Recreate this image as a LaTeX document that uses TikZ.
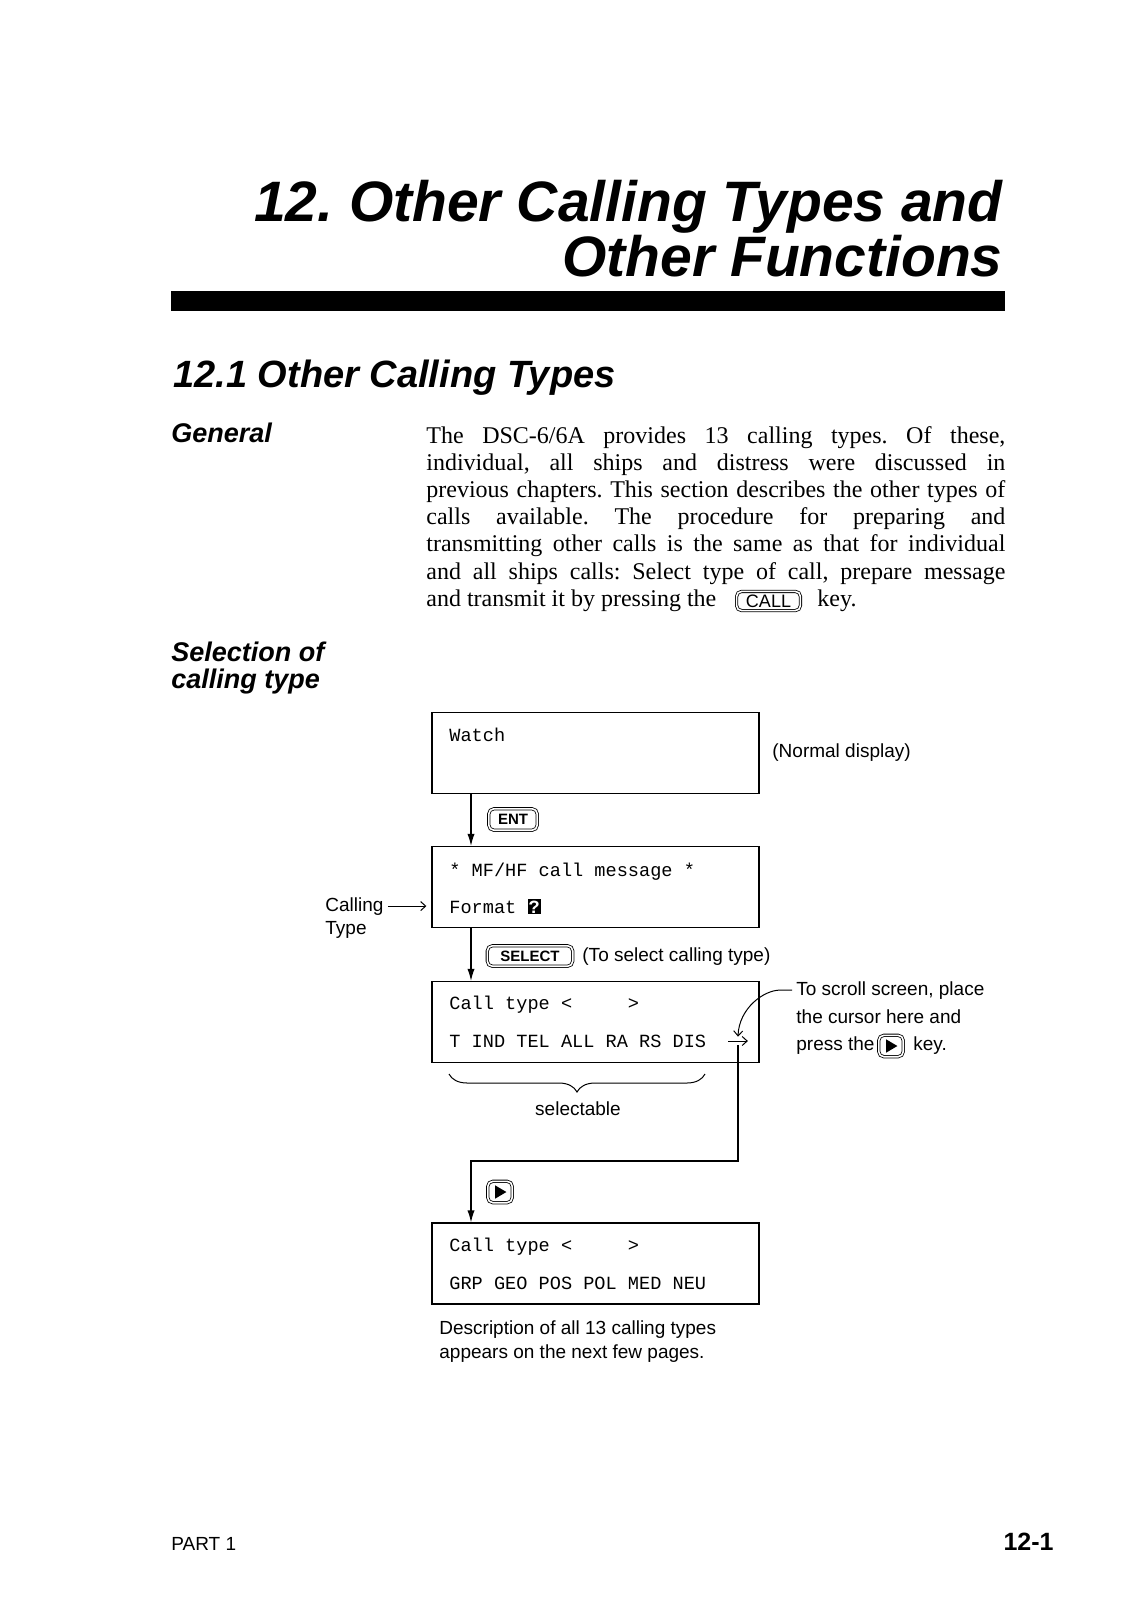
\documentclass[tikz,border=0pt]{standalone}
\usepackage{fontspec}
\setmainfont{Liberation Serif}
\setsansfont{Liberation Sans}
\setmonofont{Liberation Mono}
\frenchspacing
\usetikzlibrary{
  arrows.meta,%
  decorations.pathreplacing,%
  positioning
}
\tikzset{>=latex}
\tikzset{
  screen/.style={draw, line width=0.6pt, minimum width=163.5pt,
    minimum height=40.5pt, inner sep=0pt},
  lcd/.style={anchor=base west, inner sep=0pt,
    font=\ttfamily\fontsize{9.3}{11}\selectfont},
  keycap/.style={draw, double, double distance=0.8pt, line width=0.4pt,
    rounded corners=2.5pt, inner sep=0pt,
    font=\sffamily\bfseries\fontsize{7.5}{8}\selectfont},
  playkey/.style={keycap, minimum width=12.2pt, minimum height=10.7pt,
    path picture={\fill[sharp corners] ([shift={(-2.4pt,3.3pt)}]path picture bounding box.center)
      -- ++(5.6pt,-3.3pt) -- ++(-5.6pt,-3.3pt) -- cycle;}},
  note/.style={anchor=base west, inner sep=0pt,
    font=\sffamily\fontsize{9.5}{11}\selectfont},
  body/.style={anchor=base west, inner sep=0pt,
    font=\fontsize{12}{13.6}\selectfont},
  flow/.style={-{Latex[length=6pt,width=3.6pt]}, line width=0.6pt},
  barb/.style={-{Straight Barb[length=2.5pt,width=4.5pt]}, line width=0.5pt}
}
\newcommand{\invq}{{\setlength\fboxsep{0.6pt}\colorbox{black}{\textcolor{white}{\bfseries ?}}}}

\begin{document}
\begin{tikzpicture}[x=0.5pt, y=-0.5pt]
  \fill[white] (0,0) rectangle (1131,1600);
  \useasboundingbox (0,0) rectangle (1131,1600);
  % chapter heading
  \node[anchor=base east, inner sep=0pt, font=\sffamily\bfseries\itshape\fontsize{28.5}{30}\selectfont]
    (title1) at (1003,221) {12. Other Calling Types and};
  \node[anchor=base east, inner sep=0pt, font=\sffamily\bfseries\itshape\fontsize{28.5}{30}\selectfont]
    (title2) at (1003,276) {Other Functions};
  \fill (171,291) rectangle (1005,311); %
  \node[anchor=base west, inner sep=0pt, font=\sffamily\bfseries\itshape\fontsize{19}{21}\selectfont]
    (section) at (173,387) {12.1 Other Calling Types};
  \node[anchor=base west, inner sep=0pt, font=\sffamily\bfseries\itshape\fontsize{13.5}{15}\selectfont]
    (general) at (171,442) {General};
  \node[anchor=base west, inner sep=0pt, font=\sffamily\bfseries\itshape\fontsize{13.5}{15}\selectfont]
    (selection1) at (171,661) {Selection of};
  \node[anchor=base west, inner sep=0pt, font=\sffamily\bfseries\itshape\fontsize{13.5}{15}\selectfont]
    (selection2) at (171,688) {calling type};
  % body text
  \foreach \txt [count=\i from 0] in {%
      {The DSC-6/6A provides 13 calling types. Of these,},
      {individual, all ships and distress were discussed in},
      {previous chapters. This section describes the other types of},
      {calls available. The procedure for preparing and},
      {transmitting other calls is the same as that for individual},
      {and all ships calls: Select type of call, prepare message}}
    \node[body] (body\i) at (426,{443+27.2*\i}) {\makebox[289.5pt][s]{\txt}};
  \node[body] (body6) at (426,606.2) {and transmit it by pressing the};
  \node[keycap, font=\sffamily\fontsize{9}{10}\selectfont, minimum width=31.9pt,
    minimum height=9.6pt] (callkey) at (768.5,601) {CALL};
  \node[body] (body7) at (817,606.2) {key.};
  % displays
  \node[screen] (watch) at (595.5,753) {};
  \node[screen] (msg) at (595.5,887) {};
  \node[screen] (ctype) at (595.5,1022) {};
  \node[screen] (ctype2) at (595.5,1263.5) {};
  \node[lcd] (watch1) at (449,741) {Watch};
  \node[lcd] (msg1) at (449,876) {* MF/HF call message *};
  \node[lcd] (msg2) at (449,913) {Format \invq};
  \node[lcd] (ctype1) at (449,1009) {Call type <\ \ \ \ \ >};
  \node[lcd] (ctype3) at (449,1047) {T IND TEL ALL RA RS DIS};
  \node[lcd] (ctype4) at (449,1251) {Call type <\ \ \ \ \ >};
  \node[lcd] (ctype5) at (449,1289) {GRP GEO POS POL MED NEU};
  % keys and flow
  \coordinate (spine) at (471,0);
  \coordinate (turn) at (471,1161);
  \draw[flow] (spine |- watch.south) -- (spine |- msg.north);
  \draw[flow] (spine |- msg.south) -- (spine |- ctype.north);
  \node[keycap, minimum width=24.2pt, minimum height=10.7pt] (ent) at (513,819.5) {ENT};
  \node[keycap, minimum width=42.7pt, minimum height=10.2pt] (select) at (530,956) {SELECT};
  \node[playkey] (play1) at (500,1192) {};
  % notes
  \node[note] (normal) at (772,757) {(Normal display)};
  \node[note] (calling) at (325,911) {Calling};
  \node[note] (type) at (325,934) {Type};
  \draw[barb, shorten >=2.5pt] ([xshift=2pt]calling.east) -- (calling.east -| msg.west);
  \node[note] (tosel) at (582,961) {(To select calling type)};
  \node[note] (scroll1) at (796,995) {To scroll screen, place};
  \node[note] (scroll2) at (796,1023) {the cursor here and};
  \node[note] (scroll3) at (796,1050) {press the};
  \node[playkey] (play2) at (891,1046) {};
  \node[note] (scroll4) at (913,1050) {key.};
  \node[inner sep=0pt, minimum width=9.5pt, minimum height=4pt] (cursor) at (738,1041) {};
  \draw[barb] (cursor.west) -- (cursor.east);
  \draw[barb] ([xshift=-2pt]scroll1.west) -- ++(-12,0)
    .. controls +(-16,0) and (739,1008) .. (cursor.north);
  \draw[flow] (cursor.south) |- (turn) -- (turn |- ctype2.north);
  \draw[line width=0.5pt, decorate, decoration={brace, mirror, amplitude=9pt}]
    (449,1074) -- (705,1074);
  \node[note, anchor=base] (selectable) at (578,1115) {selectable};
  \node[note] (desc1) at (439,1334) {Description of all 13 calling types};
  \node[note] (desc2) at (439,1358) {appears on the next few pages.};
  % footer
  \node[note] (part) at (171,1550) {PART 1};
  \node[anchor=base east, inner sep=0pt, font=\sffamily\bfseries\fontsize{12.5}{14}\selectfont]
    (page) at (1054,1550) {12-1};
\end{tikzpicture}
\end{document}
